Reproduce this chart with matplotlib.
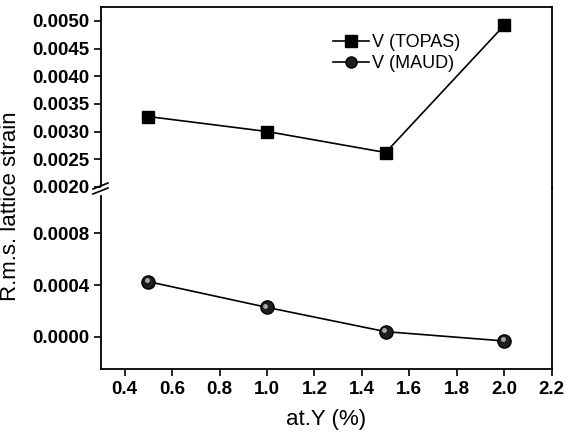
import matplotlib
matplotlib.use("Agg")
import matplotlib.pyplot as plt
from matplotlib.lines import Line2D
from matplotlib.transforms import offset_copy

# data
at_y = [0.5, 1.0, 1.5, 2.0]
strain_topas = [0.00327, 0.00300, 0.00262, 0.00492]
strain_maud = [0.000426, 0.000227, 0.000039, -0.000033]

x_ticks = [0.4, 0.6, 0.8, 1.0, 1.2, 1.4, 1.6, 1.8, 2.0, 2.2]
top_ticks = [0.0020, 0.0025, 0.0030, 0.0035, 0.0040, 0.0045, 0.0050]
bottom_ticks = [0.0000, 0.0004, 0.0008]

plt.rcParams['font.family'] = ['Liberation Sans', 'DejaVu Sans']

fig = plt.figure(figsize=(5.67, 4.40), dpi=100)
W, H = 567.0, 440.0
left, right = 101 / W, 551.7 / W
y_top, y_brk, y_bot = 7.0, 188.5, 369.0

ax_top = fig.add_axes([left, 1 - y_brk / H, right - left, (y_brk - y_top) / H])
ax_bot = fig.add_axes([left, 1 - y_bot / H, right - left, (y_bot - y_brk) / H])

# TOPAS on upper part, MAUD on lower part
ax_top.plot(at_y, strain_topas, color='black', lw=1.2, marker='s', ms=9,
            mfc='black', mec='black')
ax_bot.plot(at_y, strain_maud, color='black', lw=1.2, marker='o', ms=9.5,
            mfc='#1e1e1e', mec='black', mew=1.0)
# small highlight to mimic shaded balls
hl = offset_copy(ax_bot.transData, fig=fig, x=-1.2, y=1.2, units='points')
ax_bot.plot(at_y, strain_maud, ls='none', marker='o', ms=3.5,
            mfc='#a8a8a8', mec='none', transform=hl)

for ax in (ax_top, ax_bot):
    ax.set_xlim(0.3, 2.2)
    for sp in ax.spines.values():
        sp.set_linewidth(1.3)
    ax.tick_params(axis='both', direction='out', length=5, width=1.2,
                   labelsize=13.5)
    ax.tick_params(right=False, top=False)

ax_top.set_ylim(0.00197, 0.00525)
ax_top.set_yticks(top_ticks)
ax_top.set_yticklabels(["%.4f" % v for v in top_ticks], fontweight='bold')
ax_top.spines['bottom'].set_visible(False)
ax_top.tick_params(bottom=False, labelbottom=False)
ax_top.spines['left'].set_bounds(0.00202, 0.00525)

ax_bot.set_ylim(-0.00025, 0.001147)
ax_bot.set_yticks(bottom_ticks)
ax_bot.set_yticklabels(["%.4f" % v for v in bottom_ticks], fontweight='bold')
ax_bot.spines['top'].set_visible(False)
ax_bot.spines['left'].set_bounds(-0.00025, 0.00109)
ax_bot.set_xticks(x_ticks)
ax_bot.set_xticklabels(["%.1f" % v for v in x_ticks], fontweight='bold')
ax_bot.set_xlabel("at.Y (%)", fontsize=16, labelpad=8)

fig.text(11 / W, 1 - 206 / H, "R.m.s. lattice strain", rotation=90,
         ha='center', va='center', fontsize=16)

# axis break marks
x0 = left
for yy in (186.0, 191.0):
    fig.add_artist(Line2D([x0 - 8 / W, x0 + 7 / W],
                          [1 - (yy + 3) / H, 1 - (yy - 3) / H],
                          transform=fig.transFigure, color='black', lw=1.2))

handles = [
    Line2D([], [], color='black', lw=1.2, marker='s', ms=8, mfc='black'),
    Line2D([], [], color='black', lw=1.2, marker='o', ms=8, mfc='#1e1e1e'),
]
fig.legend(handles, ["V (TOPAS)", "V (MAUD)"], loc='upper left',
           bbox_to_anchor=(326 / W, 1 - 27 / H), frameon=False, fontsize=13,
           handlelength=2.0, handletextpad=0.15, labelspacing=0.2,
           borderaxespad=0)

fig.savefig("out.png", dpi=100)
